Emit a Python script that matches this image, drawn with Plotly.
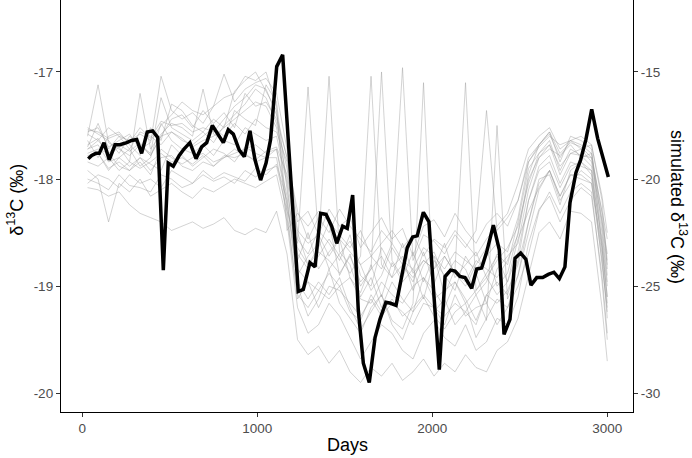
import plotly.graph_objects as go

# Observed series (left axis, δ13C ‰)
obs_days = [34, 54, 78, 97, 124, 154, 187, 215, 254, 282, 311, 339, 371, 402, 431, 463, 491, 520,
            554, 581, 615, 650, 682, 711, 743, 777, 806, 834, 863, 897, 926, 958, 987, 1019, 1050,
            1076, 1111, 1145, 1234, 1263, 1301, 1330, 1362, 1393, 1425, 1454, 1488, 1514, 1545,
            1577, 1606, 1640, 1673, 1701, 1735, 1762, 1793, 1825, 1857, 1888, 1914, 1949, 1981,
            2010, 2040, 2073, 2105, 2130, 2158, 2187, 2225, 2254, 2282, 2311, 2349, 2383, 2410,
            2444, 2473, 2505, 2535, 2564, 2597, 2631, 2663, 2695, 2726, 2758, 2787, 2821, 2848,
            2878, 2911, 2945, 2973, 3006]
obs_vals = [-17.81, -17.78, -17.76, -17.76, -17.66, -17.82, -17.68, -17.68, -17.66, -17.64, -17.63,
            -17.76, -17.56, -17.55, -17.61, -18.85, -17.85, -17.88, -17.78, -17.72, -17.66, -17.81,
            -17.70, -17.66, -17.50, -17.58, -17.66, -17.54, -17.58, -17.73, -17.79, -17.55, -17.82,
            -18.01, -17.85, -17.63, -16.95, -16.84, -19.05, -19.03, -18.78, -18.82, -18.32, -18.33,
            -18.44, -18.60, -18.44, -18.46, -18.15, -19.22, -19.72, -19.90, -19.48, -19.31, -19.15,
            -19.16, -19.18, -18.91, -18.64, -18.54, -18.53, -18.31, -18.40, -19.10, -19.78, -18.91,
            -18.85, -18.86, -18.91, -18.92, -19.02, -18.84, -18.83, -18.68, -18.43, -18.66, -19.45,
            -19.31, -18.74, -18.69, -18.75, -18.99, -18.92, -18.92, -18.89, -18.87, -18.93, -18.82,
            -18.22, -17.94, -17.82, -17.63, -17.35, -17.62, -17.79, -17.98]

# Simulated series (right axis, simulated δ13C ‰)
sim_days = [30, 90, 150, 210, 270, 330, 390, 450, 510, 570, 630, 690, 750, 810, 870, 930, 990,
            1050, 1110, 1170, 1230, 1290, 1350, 1410, 1470, 1530, 1590, 1650, 1710, 1770, 1830,
            1890, 1950, 2010, 2070, 2130, 2190, 2250, 2310, 2370, 2430, 2490, 2550, 2610, 2670,
            2730, 2790, 2850, 2910, 2970, 3000]

sim_a = [-18.0,-15.6,-18.3,-18.6,-18.9,-18.4,-18.8,-16.2,-17.6,-17.9,-18.2,-17.8,-18.3,-17.5,-17.0,-16.5,-15.8,-16.2,-17.4,-19.5,-22.8,-23.5,-22.4,-23.0,-23.8,-22.6,-24.5,-25.0,-23.2,-24.1,-23.6,-25.2,-24.0,-23.4,-24.6,-23.8,-24.2,-25.4,-24.8,-23.5,-24.0,-22.0,-19.5,-18.8,-18.2,-19.6,-18.6,-18.9,-19.4,-22.5,-24.8]
sim_b = [-18.4,-18.1,-18.9,-18.5,-19.2,-16.0,-18.6,-17.9,-17.4,-17.6,-18.0,-15.8,-17.9,-18.2,-16.8,-17.2,-17.5,-15.6,-16.4,-20.5,-23.8,-22.5,-24.2,-23.4,-22.8,-24.6,-25.3,-24.0,-25.5,-23.9,-24.8,-24.2,-25.6,-23.8,-24.5,-25.2,-23.6,-24.4,-25.8,-24.2,-23.6,-23.0,-20.5,-19.0,-18.6,-18.9,-18.4,-19.0,-18.8,-21.8,-23.5]
sim_c = [-20.0,-20.2,-20.5,-19.8,-20.3,-20.4,-20.6,-19.8,-20.0,-20.4,-20.2,-19.6,-20.0,-19.7,-19.9,-20.1,-19.5,-19.8,-19.3,-21.0,-25.0,-26.4,-25.6,-24.2,-25.8,-26.5,-27.2,-26.0,-25.4,-26.8,-27.5,-26.2,-25.5,-26.4,-27.0,-26.2,-25.8,-27.4,-26.5,-25.6,-26.0,-24.5,-22.5,-20.5,-19.6,-21.0,-20.2,-19.6,-20.0,-23.5,-26.5]
sim_d = [-17.8,-17.6,-18.5,-18.2,-17.9,-18.6,-18.3,-15.2,-16.8,-17.2,-16.9,-17.4,-16.6,-15.1,-16.4,-15.8,-15.5,-15.3,-16.0,-18.6,-22.0,-21.5,-22.6,-21.4,-22.2,-21.8,-23.2,-22.5,-21.8,-22.8,-22.3,-23.6,-22.2,-21.9,-22.7,-21.6,-22.4,-23.0,-22.1,-21.6,-22.2,-21.0,-19.0,-18.4,-17.8,-18.8,-18.3,-18.5,-19.0,-21.5,-22.8]
sim_e = [-19.6,-20.0,-22.0,-20.2,-20.6,-20.0,-20.8,-20.5,-20.2,-20.6,-20.9,-20.4,-20.6,-20.3,-20.0,-20.2,-20.4,-20.1,-19.8,-22.0,-26.0,-27.2,-26.8,-25.8,-26.4,-27.4,-28.4,-27.6,-26.8,-27.2,-28.0,-28.4,-27.2,-26.6,-27.4,-27.8,-26.8,-28.0,-27.6,-26.5,-26.8,-25.5,-23.0,-21.4,-20.8,-22.0,-21.0,-20.4,-20.8,-24.5,-27.2]
sim_f = [-20.4,-20.5,-20.8,-20.6,-21.2,-21.6,-21.8,-22.0,-22.4,-22.2,-22.0,-22.3,-22.1,-21.8,-22.4,-22.6,-22.3,-22.5,-21.5,-23.5,-27.5,-28.2,-27.8,-28.6,-28.0,-29.0,-29.5,-28.8,-29.2,-28.6,-29.4,-29.0,-28.4,-29.2,-28.6,-29.0,-28.2,-28.8,-29.0,-28.0,-27.6,-26.5,-24.5,-22.5,-22.0,-22.8,-21.5,-21.6,-22.0,-26.0,-28.5]
sim_g = [-18.2,-19.0,-18.0,-17.8,-18.4,-18.9,-17.6,-18.2,-16.5,-16.8,-17.5,-17.8,-17.2,-17.6,-15.9,-15.4,-15.0,-15.9,-16.8,-21.5,-23.0,-15.7,-22.8,-24.2,-23.5,-22.9,-24.0,-25.2,-24.5,-23.2,-24.0,-24.8,-23.4,-24.9,-23.6,-24.4,-25.0,-24.0,-23.2,-25.0,-24.4,-22.5,-19.8,-18.4,-17.8,-19.2,-18.0,-18.2,-18.6,-23.0,-25.5]
sim_h = [-18.6,-18.4,-19.2,-19.0,-18.6,-19.4,-19.0,-17.4,-18.2,-18.6,-18.8,-18.4,-18.9,-18.2,-18.4,-17.6,-17.9,-18.2,-18.0,-20.2,-24.5,-23.6,-23.0,-15.2,-23.4,-24.0,-25.5,-24.6,-26.0,-24.8,-25.6,-26.2,-24.6,-25.2,-26.0,-24.8,-25.6,-26.6,-25.4,-24.8,-25.4,-23.8,-21.0,-19.4,-18.9,-20.2,-19.2,-19.4,-19.6,-24.0,-26.0]
sim_i = [-19.0,-18.8,-19.5,-19.2,-19.6,-19.2,-19.8,-18.6,-19.0,-19.3,-19.0,-18.8,-19.2,-19.0,-18.6,-18.9,-19.1,-18.7,-18.5,-19.8,-22.5,-24.0,-23.2,-22.0,-24.5,-23.5,-25.0,-24.2,-15.0,-23.8,-24.6,-23.4,-24.8,-23.6,-25.4,-24.2,-15.5,-25.2,-24.4,-23.6,-24.8,-22.8,-21.5,-20.4,-19.6,-20.8,-19.8,-20.0,-20.2,-23.2,-25.8]
sim_j = [-17.6,-17.9,-18.2,-18.8,-18.0,-18.4,-18.9,-18.0,-17.2,-17.0,-17.6,-16.8,-17.4,-16.9,-17.6,-16.0,-16.6,-16.4,-17.2,-19.0,-21.5,-22.8,-21.8,-22.5,-21.4,-22.2,-22.8,-23.4,-22.4,-23.0,-14.8,-23.8,-22.6,-22.9,-23.5,-22.6,-23.2,-22.4,-16.8,-22.4,-21.8,-21.0,-19.2,-18.5,-18.0,-18.4,-18.2,-18.6,-18.4,-21.0,-24.2]
sim_k = [-18.8,-18.6,-18.8,-19.4,-19.6,-19.0,-19.3,-19.6,-18.4,-18.9,-19.4,-19.0,-18.6,-18.8,-19.2,-18.5,-18.8,-19.0,-18.6,-20.8,-24.8,-25.6,-24.8,-25.4,-24.6,-26.0,-27.0,-26.2,-25.4,-26.6,-27.0,-25.8,-15.5,-26.2,-25.6,-26.8,-26.2,-25.4,-26.6,-17.5,-25.6,-24.5,-22.0,-20.0,-19.8,-21.2,-19.6,-19.2,-19.8,-22.8,-25.0]
sim_l = [-17.9,-18.2,-17.6,-18.0,-18.6,-17.8,-18.0,-18.4,-17.8,-18.2,-18.4,-18.0,-17.6,-18.0,-17.4,-17.9,-17.2,-17.6,-17.8,-19.2,-23.5,-24.2,-23.6,-22.8,-23.6,-24.4,-23.6,-15.2,-24.0,-24.6,-23.0,-24.4,-23.8,-24.2,-23.0,-24.6,-24.0,-23.4,-24.6,-23.8,-23.2,-22.2,-20.2,-18.8,-18.4,-19.8,-18.8,-18.6,-19.2,-22.0,-24.0]
sim_m = [-20.2,-19.8,-20.0,-20.4,-19.8,-20.2,-20.0,-20.4,-19.6,-19.9,-20.2,-19.8,-20.1,-19.9,-20.2,-19.6,-19.9,-19.6,-19.4,-21.5,-25.6,-24.8,-26.0,-25.0,-25.2,-25.8,-26.4,-25.6,-26.4,-25.8,-26.2,-26.8,-25.8,-26.0,-26.8,-25.4,-26.4,-26.0,-25.8,-26.8,-26.0,-25.0,-23.5,-21.5,-20.6,-21.6,-20.6,-20.2,-20.6,-24.8,-27.5]
sim_n = [-18.5,-17.4,-18.6,-18.0,-18.2,-17.9,-18.2,-17.5,-17.0,-16.4,-16.8,-17.0,-16.6,-16.2,-16.0,-15.2,-15.4,-15.0,-16.6,-22.4,-21.6,-22.2,-21.5,-22.0,-22.6,-23.2,-22.4,-23.6,-23.0,-22.4,-23.2,-22.6,-23.6,-22.8,-23.2,-22.4,-23.0,-23.6,-22.8,-22.2,-21.6,-20.2,-18.6,-18.0,-17.6,-18.6,-18.2,-18.0,-18.4,-20.8,-22.5]
sim_o = [-18.6,-18.2,-18.8,-18.4,-18.7,-18.3,-18.9,-18.0,-17.8,-18.1,-18.5,-18.2,-18.0,-17.6,-17.2,-16.8,-16.4,-16.6,-17.6,-20.0,-23.2,-24.0,-23.4,-23.8,-24.4,-23.6,-24.8,-24.2,-23.6,-24.6,-24.0,-24.6,-23.8,-24.2,-23.6,-24.4,-24.8,-23.8,-24.2,-24.6,-23.8,-22.6,-20.0,-19.0,-18.4,-19.4,-18.8,-18.9,-19.0,-22.2,-24.5]
sim_p = [-19.2,-19.4,-19.0,-19.6,-19.2,-19.5,-19.2,-18.8,-19.2,-19.0,-19.3,-18.9,-19.4,-19.0,-18.8,-18.6,-18.4,-18.8,-18.6,-21.2,-24.2,-24.8,-25.2,-24.4,-25.0,-24.6,-25.6,-25.8,-24.8,-25.4,-25.8,-25.0,-24.6,-25.6,-25.2,-24.8,-25.8,-25.2,-24.6,-25.4,-24.8,-23.4,-21.0,-19.6,-19.2,-20.4,-19.4,-19.2,-19.6,-23.0,-25.5]
sim_q = [-17.7,-17.8,-18.1,-17.9,-18.3,-17.6,-18.1,-17.3,-17.5,-17.4,-17.8,-17.6,-17.8,-17.2,-16.6,-16.2,-15.6,-15.8,-17.0,-19.0,-22.4,-23.0,-22.6,-23.6,-22.8,-23.4,-24.0,-23.6,-24.2,-23.0,-23.8,-24.2,-23.2,-23.6,-24.2,-23.4,-23.8,-24.2,-23.6,-23.0,-23.4,-21.8,-19.2,-18.4,-17.9,-19.0,-18.2,-18.4,-18.8,-21.6,-23.8]
sim_r = [-18.9,-18.8,-19.6,-19.0,-19.4,-19.0,-19.6,-19.0,-18.9,-19.4,-19.6,-19.2,-19.4,-18.9,-19.0,-18.8,-19.2,-19.0,-19.0,-21.8,-25.4,-26.0,-25.2,-25.6,-25.0,-26.2,-26.6,-25.4,-26.2,-25.6,-26.4,-26.0,-25.4,-26.0,-26.4,-25.8,-26.2,-26.8,-25.4,-25.8,-25.2,-24.0,-22.0,-20.2,-19.6,-20.8,-19.8,-19.8,-20.2,-23.8,-26.2]

sim_series = [sim_a, sim_b, sim_c, sim_d, sim_e, sim_f, sim_g, sim_h, sim_i, sim_j, sim_k,
              sim_l, sim_m, sim_n, sim_o, sim_p, sim_q, sim_r]

x_ticks = [0, 1000, 2000, 3000]
left_ticks = [-20, -19, -18, -17]
right_ticks = [-30, -25, -20, -15]

# relation between the two axes: simulated = 5 * observed + 70
def to_left(s):
    return (s - 70.0) / 5.0

left_range = [-20.175, -16.328]
right_range = [5 * left_range[0] + 70, 5 * left_range[1] + 70]

fig = go.Figure()
for s in sim_series:
    fig.add_trace(go.Scatter(x=sim_days, y=[to_left(v) for v in s], mode="lines",
                             line=dict(color="rgba(150,150,150,0.42)", width=1),
                             showlegend=False, hoverinfo="skip"))
fig.add_trace(go.Scatter(x=obs_days, y=obs_vals, mode="lines",
                         line=dict(color="black", width=3.5), showlegend=False))
# invisible trace anchoring the secondary axis
fig.add_trace(go.Scatter(x=sim_days, y=sim_a, yaxis="y2", mode="lines",
                         line=dict(color="rgba(0,0,0,0)", width=0), showlegend=False,
                         hoverinfo="skip"))

font_fam = "Liberation Sans, Arial, sans-serif"
tickfont = dict(family=font_fam, size=13.5, color="#4d4d4d")
axis_common = dict(showline=True, linecolor="black", linewidth=1.3, ticks="outside",
                   ticklen=4, tickwidth=1, tickcolor="#333333", showgrid=False,
                   zeroline=False, tickfont=tickfont)

fig.update_layout(
    width=692, height=458,
    margin=dict(l=61, r=59, t=0, b=46),
    plot_bgcolor="white", paper_bgcolor="white",
    xaxis=dict(range=[-121.7, 3147], tickvals=x_ticks, ticktext=[str(t) for t in x_ticks],
               **axis_common),
    yaxis=dict(range=left_range, tickvals=left_ticks, ticktext=[str(t) for t in left_ticks],
               **axis_common),
    yaxis2=dict(range=right_range, tickvals=right_ticks, ticktext=[str(t) for t in right_ticks],
                overlaying="y", side="right", **axis_common),
    annotations=[
        dict(text="Days", xref="paper", yref="paper", x=0.5, y=-0.080, showarrow=False,
             xanchor="center", yanchor="middle", font=dict(family=font_fam, size=18, color="black")),
        dict(text="δ<sup>13</sup>C (‰)", xref="paper", yref="paper", x=-0.0787, y=0.515,
             textangle=-90, showarrow=False, xanchor="center", yanchor="middle",
             font=dict(family=font_fam, size=18, color="black")),
        dict(text="simulated δ<sup>13</sup>C (‰)", xref="paper", yref="paper", x=1.0787,
             y=0.4976, textangle=90, showarrow=False, xanchor="center", yanchor="middle",
             font=dict(family=font_fam, size=18, color="black")),
    ],
)

fig.write_html("out.html", config={"displayModeBar": False},
               post_script="document.body.style.margin='0px';")
